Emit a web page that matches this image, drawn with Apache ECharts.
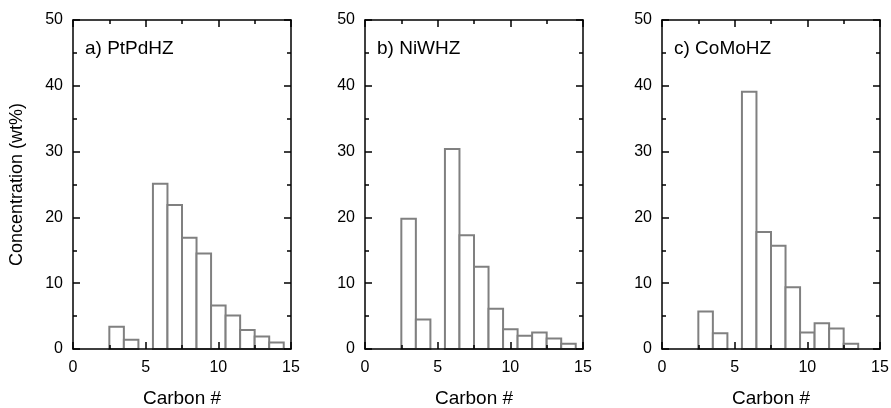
<!DOCTYPE html>
<html>
<head>
<meta charset="utf-8">
<script src="https://cdn.jsdelivr.net/npm/echarts@6/dist/echarts.min.js"></script>
<style>
  html, body { margin: 0; padding: 0; background: #fff; }
  #chart { width: 891px; height: 408px; }
</style>
</head>
<body>
<div id="chart"></div>
<script>
// carbon numbers (x) and concentration in wt% (y), one array per catalyst
const carbonAB = [3, 4, 6, 7, 8, 9, 10, 11, 12, 13, 14];
const ptpdhz = [3.4, 1.4, 25.1, 21.9, 16.9, 14.5, 6.6, 5.1, 2.9, 1.9, 1.0];
const niwhz = [19.8, 4.5, 30.4, 17.3, 12.5, 6.1, 3.0, 2.0, 2.5, 1.6, 0.8];
const carbonC = [3, 4, 6, 7, 8, 9, 10, 11, 12, 13];
const comohz = [5.7, 2.4, 39.1, 17.8, 15.7, 9.4, 2.5, 3.9, 3.1, 0.8];

const panelNames = ["a) PtPdHZ", "b) NiWHZ", "c) CoMoHZ"];
const xTicks = [0, 15, 5];   // min, max, interval
const yTicks = [0, 50, 10];

const FONT = "Liberation Sans, Arial, sans-serif";
const panels = [
    { name: panelNames[0], x: carbonAB, y: ptpdhz, left: 73 },
    { name: panelNames[1], x: carbonAB, y: niwhz, left: 365 },
    { name: panelNames[2], x: carbonC, y: comohz, left: 662 },
];

const axisLine = { show: true, onZero: false, lineStyle: { color: "#000", width: 1.5 } };
const tick = { show: true, inside: true, length: 7, lineStyle: { color: "#000", width: 1.5 } };
const minor = { show: true, splitNumber: 2, length: 4, lineStyle: { color: "#000", width: 1.5 } };

// 直方图的柱子，宽度为一个碳数
const histBar = (params, api) => {
    let x = api.value(0);
    let y = api.value(1);
    let p0 = api.coord([x - 0.5, y]);
    let p1 = api.coord([x + 0.5, 0]);
    return {
        type: "rect",
        shape: { x: p0[0], y: p0[1], width: p1[0] - p0[0], height: p1[1] - p0[1] },
        style: { fill: "#fff", stroke: "#808080", lineWidth: 2 },
    };
};

let grid = [], xAxis = [], yAxis = [], series = [], title = [];
panels.forEach((p, i) => {
    grid.push({ left: p.left, width: 218, top: 20, bottom: 59, outerBoundsMode: "none", containLabel: false });
    let xBase = {
        type: "value", gridIndex: i, min: xTicks[0], max: xTicks[1], interval: xTicks[2],
        axisLine: axisLine, axisTick: tick, minorTick: minor, splitLine: { show: false }, z: 5,
    };
    let yBase = {
        type: "value", gridIndex: i, min: yTicks[0], max: yTicks[1], interval: yTicks[2],
        axisLine: axisLine, axisTick: tick, minorTick: minor, splitLine: { show: false }, z: 5,
    };
    xAxis.push(Object.assign({}, xBase, {
        position: "bottom",
        axisLabel: { color: "#000", fontSize: 16, fontFamily: FONT, margin: 11 },
        name: "Carbon #", nameLocation: "middle", nameGap: 40,
        nameTextStyle: { color: "#000", fontSize: 19, fontFamily: FONT },
    }));
    xAxis.push(Object.assign({}, xBase, { position: "top", axisLabel: { show: false } }));
    let yLeft = Object.assign({}, yBase, {
        position: "left",
        axisLabel: { color: "#000", fontSize: 16, fontFamily: FONT, margin: 10 },
    });
    if (i === 0) {
        yLeft.name = "Concentration (wt%)";
        yLeft.nameLocation = "middle";
        yLeft.nameGap = 47;
        yLeft.nameTextStyle = { color: "#000", fontSize: 18, fontFamily: FONT };
    }
    yAxis.push(yLeft);
    yAxis.push(Object.assign({}, yBase, { position: "right", axisLabel: { show: false } }));
    series.push({
        type: "custom",
        xAxisIndex: i * 2,
        yAxisIndex: i * 2,
        renderItem: histBar,
        data: p.x.map((c, k) => [c, p.y[k]]),
        z: 2,
    });
    title.push({
        text: p.name, left: p.left + 7, top: 34,
        textStyle: { color: "#000", fontSize: 19, fontWeight: "normal", fontFamily: FONT },
    });
});

const chart = echarts.init(document.getElementById("chart"), null, { renderer: "canvas" });
chart.setOption({
    animation: false,
    backgroundColor: "#fff",
    title: title,
    grid: grid,
    xAxis: xAxis,
    yAxis: yAxis,
    series: series,
});
</script>
</body>
</html>
